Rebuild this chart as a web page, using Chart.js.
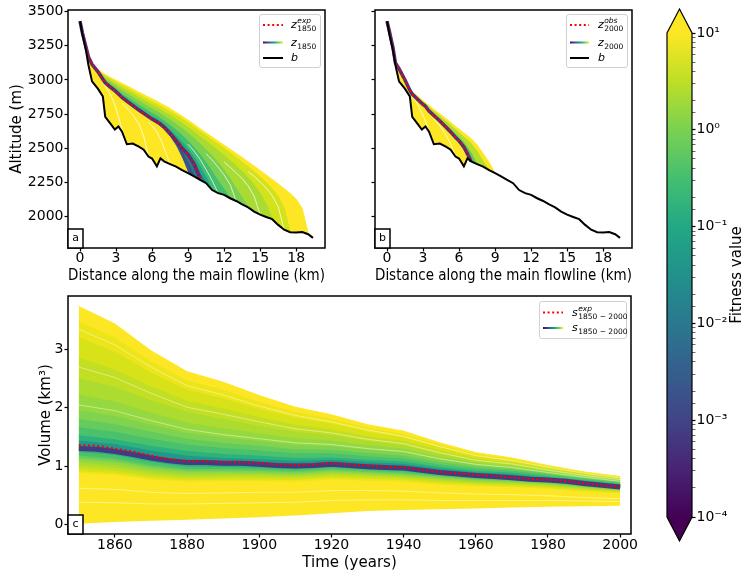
<!DOCTYPE html>
<html>
<head>
<meta charset="utf-8">
<title>Glacier surface and volume ensembles</title>
<script src="https://cdn.jsdelivr.net/npm/chart.js@4.4.1/dist/chart.umd.min.js"></script>
<style>
  html, body { margin: 0; padding: 0; background: #fff; }
  #fig { position: relative; width: 744px; height: 573px; overflow: hidden; }
  #fig canvas { position: absolute; }
</style>
</head>
<body>
<div id="fig">
  <canvas id="panel-a" width="340" height="285" style="left:0;top:0"></canvas>
  <canvas id="panel-b" width="320" height="285" style="left:340px;top:0"></canvas>
  <canvas id="panel-c" width="655" height="288" style="left:0;top:285px"></canvas>
  <canvas id="colorbar" width="89" height="573" style="left:655px;top:0"></canvas>
</div>
<script>
// ---------- data ----------
const distKm = [0, 0.2, 0.5, 0.7, 1.0, 1.5, 1.9, 2.1, 2.5, 2.9, 3.2, 3.5, 3.9, 4.4, 4.9, 5.3, 5.7, 6.0, 6.4, 6.7,
  7.0, 7.5, 8.0, 8.5, 9.0, 9.5, 10.0, 10.5, 11.0, 11.5, 12.0, 12.5, 13.0, 13.5, 14.0, 14.5, 15.0, 15.5, 16.0, 16.5,
  17.0, 17.5, 18.0, 18.5, 19.0, 19.4];
const distTicks = [0, 3, 6, 9, 12, 15, 18];
const altTicks = [2000, 2250, 2500, 2750, 3000, 3250, 3500];

// bedrock b
const bedAlt = [3430, 3335, 3215, 3110, 2990, 2935, 2880, 2730, 2685, 2638, 2660, 2622, 2530, 2535, 2512, 2490, 2440, 2425, 2368, 2427,
  2405, 2385, 2366, 2340, 2318, 2295, 2270, 2245, 2195, 2172, 2160, 2135, 2115, 2090, 2068, 2037, 2015, 1998, 1982, 1940,
  1905, 1887, 1885, 1888, 1872, 1845];

// panel a: expected 1850 surface and a few ensemble members (outer to inner)
const zExp1850 = [3430, 3345, 3240, 3170, 3115, 3060, 3005, 2980, 2950, 2922, 2898, 2872, 2845, 2812, 2780, 2756, 2732, 2714, 2694, 2677,
  2655, 2610, 2557, 2500, 2455, 2385, 2278, null, null, null, null, null, null, null, null, null, null, null, null, null,
  null, null, null, null, null, null];
const z1850Fan1 = [3430, 3345, 3240, 3172, 3125, 3075, 3052, 3040, 3020, 3002, 2988, 2975, 2958, 2935, 2910, 2893, 2875, 2862, 2845, 2830,
  2815, 2792, 2762, 2735, 2706, 2676, 2644, 2613, 2583, 2553, 2523, 2493, 2463, 2433, 2401, 2370, 2338, 2305, 2273, 2240,
  2205, 2170, 2128, 2060, 1878, null];
const z1850Fan2 = [3430, 3345, 3240, 3171, 3120, 3068, 3042, 3030, 3008, 2988, 2972, 2958, 2940, 2915, 2890, 2872, 2853, 2840, 2822, 2807,
  2792, 2768, 2742, 2715, 2685, 2655, 2622, 2592, 2560, 2530, 2498, 2466, 2433, 2400, 2365, 2328, 2290, 2250, 2205, 2150,
  2060, 1887, null, null, null, null];
const z1850Fan3 = [3430, 3345, 3240, 3171, 3118, 3063, 3032, 3018, 2994, 2972, 2955, 2940, 2920, 2895, 2868, 2850, 2830, 2816, 2798, 2782,
  2766, 2740, 2712, 2683, 2652, 2620, 2585, 2552, 2518, 2483, 2448, 2410, 2372, 2330, 2285, 2232, 2170, 2090, 1982, null,
  null, null, null, null, null, null];
const z1850Fan4 = [3430, 3345, 3240, 3171, 3117, 3062, 3022, 3005, 2980, 2956, 2938, 2920, 2900, 2873, 2845, 2825, 2803, 2788, 2770, 2753,
  2735, 2707, 2677, 2645, 2610, 2573, 2533, 2490, 2445, 2395, 2340, 2278, 2208, 2140, 2068, null, null, null, null, null,
  null, null, null, null, null, null];
const z1850Fan5 = [3430, 3345, 3240, 3170, 3116, 3061, 3013, 2992, 2965, 2940, 2918, 2896, 2874, 2845, 2815, 2795, 2772, 2755, 2737, 2720,
  2700, 2668, 2633, 2595, 2552, 2505, 2452, 2395, 2330, 2262, 2200, 2135, null, null, null, null, null, null, null, null,
  null, null, null, null, null, null];
const z1850Fan6 = [3430, 3345, 3240, 3170, 3115, 3060, 3008, 2985, 2956, 2930, 2905, 2880, 2856, 2826, 2795, 2772, 2748, 2731, 2712, 2695,
  2673, 2635, 2592, 2545, 2495, 2435, 2365, 2290, 2195, null, null, null, null, null, null, null, null, null, null, null,
  null, null, null, null, null, null];
const z1850Fan7 = [3430, 3345, 3240, 3170, 3115, 3060, 3006, 2982, 2953, 2926, 2901, 2876, 2850, 2818, 2787, 2763, 2739, 2722, 2702, 2685,
  2663, 2620, 2570, 2515, 2465, 2400, 2318, 2245, null, null, null, null, null, null, null, null, null, null, null, null,
  null, null, null, null, null, null];
const z1850Low1 = [3430, 3345, 3240, 3170, 3113, 3057, 3002, 2976, 2946, 2918, 2893, 2867, 2840, 2807, 2775, 2751, 2727, 2709, 2688, 2670,
  2647, 2598, 2540, 2475, 2395, 2295, null, null, null, null, null, null, null, null, null, null, null, null, null, null,
  null, null, null, null, null, null];
const z1850Low2 = [3430, 3345, 3240, 3170, 3110, 3050, 2995, 2968, 2938, 2910, 2884, 2857, 2830, 2798, 2765, 2742, 2717, 2698, 2677, 2658,
  2633, 2582, 2515, 2425, 2318, null, null, null, null, null, null, null, null, null, null, null, null, null, null, null,
  null, null, null, null, null, null];
// thin gaps between ensemble members (white streaks), each as its own short profile
const gapKm1 = [1.9, 2.1, 2.5, 2.9, 3.2, 3.5, 3.9];
const gapAlt1 = [2990, 2955, 2900, 2820, 2730, 2640, 2530];
const gapKm2 = [3.5, 3.9, 4.4, 4.9, 5.3, 5.7];
const gapAlt2 = [2830, 2795, 2745, 2680, 2590, 2440];
const gapKm3 = [5.7, 6.0, 6.4, 6.7, 7.0, 7.5];
const gapAlt3 = [2690, 2665, 2620, 2570, 2500, 2385];
const gapKm4 = [9.0, 9.5, 10.0, 10.5, 11.0, 11.5];
const gapAlt4 = [2530, 2480, 2420, 2345, 2265, 2172];
const gapKm5 = [10.5, 11.0, 11.5, 12.0, 12.5, 13.0];
const gapAlt5 = [2460, 2415, 2362, 2305, 2235, 2115];
const gapKm6 = [12.0, 12.5, 13.0, 13.5, 14.0, 14.5, 15.0];
const gapAlt6 = [2400, 2362, 2322, 2278, 2225, 2150, 2015];
const gapKm7 = [14.0, 14.5, 15.0, 15.5, 16.0, 16.5, 17.0];
const gapAlt7 = [2330, 2295, 2255, 2210, 2155, 2075, 1905];

// panel b: observed 2000 surface and ensemble members
const zObs2000 = [3430, 3355, 3235, 3125, 3083, 3000, 2925, 2897, 2862, 2828, 2808, 2772, 2740, 2700, 2656, 2620, 2580, 2555, 2510, 2460,
  2405, null, null, null, null, null, null, null, null, null, null, null, null, null, null, null, null, null, null, null,
  null, null, null, null, null, null];
const z2000Fan1 = [3430, 3355, 3235, 3125, 3083, 3002, 2935, 2912, 2885, 2855, 2835, 2812, 2785, 2752, 2718, 2690, 2660, 2640, 2612, 2592,
  2572, 2525, 2462, 2398, 2318, null, null, null, null, null, null, null, null, null, null, null, null, null, null, null,
  null, null, null, null, null, null];
const z2000Fan2 = [3430, 3355, 3235, 3125, 3083, 3001, 2932, 2908, 2878, 2847, 2826, 2800, 2770, 2735, 2698, 2668, 2636, 2614, 2582, 2559,
  2535, 2478, 2405, 2340, null, null, null, null, null, null, null, null, null, null, null, null, null, null, null, null,
  null, null, null, null, null, null];
const z2000Fan3 = [3430, 3355, 3235, 3124, 3083, 3000, 2928, 2902, 2868, 2835, 2815, 2782, 2750, 2712, 2672, 2640, 2604, 2580, 2540, 2505,
  2465, 2385, null, null, null, null, null, null, null, null, null, null, null, null, null, null, null, null, null, null,
  null, null, null, null, null, null];
const z2000Fan4 = [3430, 3355, 3235, 3123, 3083, 3000, 2926, 2899, 2864, 2830, 2810, 2775, 2744, 2705, 2662, 2627, 2588, 2563, 2520, 2478,
  2405, null, null, null, null, null, null, null, null, null, null, null, null, null, null, null, null, null, null, null,
  null, null, null, null, null, null];
const z2000Low = [3430, 3355, 3235, 3122, 3080, 2995, 2918, 2890, 2853, 2818, 2797, 2760, 2727, 2686, 2641, 2604, 2562, 2535, 2480, 2427,
  null, null, null, null, null, null, null, null, null, null, null, null, null, null, null, null, null, null, null, null,
  null, null, null, null, null, null];
const gapKm8 = [2.1, 2.5, 2.9, 3.2, 3.5];
const gapAlt8 = [2880, 2830, 2760, 2700, 2625];
const gapKm9 = [3.9, 4.4, 4.9, 5.3, 5.7];
const gapAlt9 = [2715, 2665, 2600, 2530, 2445];

// panel c: volume 1850-2000
const years5 = [1850, 1855, 1860, 1865, 1870, 1875, 1880, 1885, 1890, 1895, 1900, 1905, 1910, 1915, 1920, 1925,
  1930, 1935, 1940, 1945, 1950, 1955, 1960, 1965, 1970, 1975, 1980, 1985, 1990, 1995, 2000];
const volExp = [1.36, 1.35, 1.30, 1.25, 1.18, 1.12, 1.09, 1.09, 1.07, 1.07, 1.05, 1.03, 1.02, 1.03, 1.05, 1.03,
  1.01, 0.99, 0.98, 0.94, 0.90, 0.875, 0.85, 0.83, 0.81, 0.78, 0.77, 0.745, 0.705, 0.675, 0.645];
const volBest = [1.30, 1.29, 1.25, 1.20, 1.14, 1.09, 1.06, 1.06, 1.05, 1.05, 1.03, 1.01, 1.00, 1.01, 1.03, 1.01,
  0.99, 0.975, 0.965, 0.93, 0.89, 0.865, 0.84, 0.82, 0.80, 0.775, 0.76, 0.74, 0.70, 0.67, 0.64];
const yearsBand = [1850, 1860, 1870, 1880, 1890, 1900, 1910, 1920, 1930, 1940, 1950, 1960, 1970, 1980, 1990, 2000];
// upper edges of the fitness bands, worst (outer) to best (inner)
const volHigh1 = [3.74, 3.44, 2.98, 2.62, 2.44, 2.21, 2.01, 1.88, 1.71, 1.60, 1.40, 1.23, 1.14, 1.01, 0.90, 0.82];
const volHigh2 = [3.47, 3.20, 2.79, 2.46, 2.30, 2.09, 1.92, 1.80, 1.65, 1.54, 1.36, 1.20, 1.11, 0.99, 0.885, 0.805];
const volHigh3 = [3.20, 2.95, 2.60, 2.30, 2.15, 1.97, 1.82, 1.72, 1.58, 1.48, 1.31, 1.16, 1.08, 0.97, 0.87, 0.79];
const volHigh4 = [2.85, 2.65, 2.36, 2.11, 1.98, 1.83, 1.70, 1.62, 1.50, 1.42, 1.26, 1.12, 1.05, 0.945, 0.85, 0.775];
const volHigh5 = [2.50, 2.35, 2.12, 1.92, 1.80, 1.68, 1.58, 1.52, 1.42, 1.35, 1.20, 1.08, 1.02, 0.92, 0.83, 0.76];
const volHigh6 = [2.22, 2.10, 1.91, 1.74, 1.64, 1.55, 1.47, 1.43, 1.35, 1.29, 1.15, 1.05, 0.99, 0.90, 0.815, 0.745];
const volHigh7 = [1.95, 1.85, 1.70, 1.56, 1.48, 1.42, 1.35, 1.33, 1.27, 1.22, 1.10, 1.01, 0.96, 0.88, 0.80, 0.73];
const volHigh8 = [1.80, 1.71, 1.58, 1.46, 1.39, 1.34, 1.28, 1.27, 1.215, 1.17, 1.06, 0.98, 0.935, 0.86, 0.785, 0.715];
const volHigh9 = [1.66, 1.58, 1.46, 1.36, 1.30, 1.26, 1.21, 1.21, 1.16, 1.12, 1.02, 0.95, 0.91, 0.84, 0.77, 0.70];
const volHigh10 = [1.52, 1.45, 1.34, 1.25, 1.20, 1.17, 1.13, 1.14, 1.10, 1.07, 0.98, 0.91, 0.88, 0.81, 0.75, 0.68];
const volHigh11 = [1.43, 1.37, 1.26, 1.17, 1.13, 1.11, 1.08, 1.10, 1.06, 1.03, 0.95, 0.885, 0.85, 0.79, 0.73, 0.665];
// matching lower edges
const volLow1 = [0.01, 0.04, 0.06, 0.08, 0.10, 0.12, 0.15, 0.19, 0.23, 0.245, 0.26, 0.27, 0.29, 0.30, 0.31, 0.32];
const volLow2 = [0.88, 0.85, 0.77, 0.73, 0.74, 0.74, 0.73, 0.77, 0.75, 0.73, 0.68, 0.655, 0.635, 0.605, 0.56, 0.535];
const volLow3 = [0.91, 0.88, 0.80, 0.76, 0.77, 0.77, 0.76, 0.80, 0.78, 0.76, 0.71, 0.68, 0.66, 0.63, 0.58, 0.55];
const volLow4 = [0.96, 0.925, 0.84, 0.795, 0.805, 0.805, 0.79, 0.83, 0.81, 0.785, 0.735, 0.70, 0.68, 0.65, 0.597, 0.562];
const volLow5 = [1.01, 0.97, 0.88, 0.83, 0.84, 0.84, 0.82, 0.86, 0.84, 0.81, 0.76, 0.72, 0.70, 0.67, 0.615, 0.575];
const volLow6 = [1.06, 1.015, 0.92, 0.865, 0.87, 0.865, 0.845, 0.885, 0.86, 0.83, 0.78, 0.74, 0.715, 0.685, 0.627, 0.585];
const volLow7 = [1.11, 1.06, 0.96, 0.90, 0.90, 0.89, 0.87, 0.91, 0.88, 0.85, 0.80, 0.76, 0.73, 0.70, 0.64, 0.595];
const volLow8 = [1.145, 1.095, 0.99, 0.925, 0.925, 0.915, 0.893, 0.93, 0.90, 0.87, 0.815, 0.772, 0.742, 0.71, 0.65, 0.602];
const volLow9 = [1.18, 1.13, 1.02, 0.95, 0.95, 0.94, 0.915, 0.95, 0.92, 0.89, 0.83, 0.785, 0.755, 0.72, 0.66, 0.61];
const volLow10 = [1.24, 1.19, 1.07, 0.99, 0.985, 0.97, 0.945, 0.98, 0.945, 0.915, 0.85, 0.805, 0.77, 0.735, 0.675, 0.62];
const volLow11 = [1.29, 1.23, 1.11, 1.03, 1.01, 0.995, 0.97, 1.005, 0.965, 0.935, 0.87, 0.82, 0.785, 0.75, 0.69, 0.63];
// faint gaps between single volume runs
const volGap1 = [3.35, 3.08, 2.70, 2.38, 2.22, 2.03, 1.87, 1.76, 1.62, 1.51, 1.335, 1.18, 1.095, 0.98, 0.878, 0.798];
const volGap2 = [2.70, 2.52, 2.25, 2.01, 1.89, 1.76, 1.64, 1.57, 1.46, 1.385, 1.23, 1.10, 1.035, 0.932, 0.84, 0.768];
const volGap3 = [2.05, 1.95, 1.78, 1.63, 1.54, 1.47, 1.40, 1.37, 1.30, 1.25, 1.125, 1.03, 0.975, 0.89, 0.81, 0.738];
const volGap4 = [0.62, 0.60, 0.55, 0.53, 0.54, 0.55, 0.55, 0.58, 0.58, 0.57, 0.54, 0.52, 0.51, 0.49, 0.46, 0.44];
const volGap5 = [0.38, 0.37, 0.35, 0.35, 0.36, 0.37, 0.38, 0.41, 0.42, 0.42, 0.41, 0.41, 0.41, 0.41, 0.40, 0.39];
const yearTicks = [1860, 1880, 1900, 1920, 1940, 1960, 1980, 2000];
const volTicks = [0, 1, 2, 3];

// colour bar
const fitnessRange = [1e-4, 10];
const fitnessTicks = [1e-4, 1e-3, 1e-2, 1e-1, 1, 10];
const fitnessLabels = ['10\u207B\u2074', '10\u207B\u00B3', '10\u207B\u00B2', '10\u207B\u00B9', '10\u2070', '10\u00B9'];

// ---------- styling ----------
Chart.defaults.font.family = "'DejaVu Sans', sans-serif";
Chart.defaults.color = '#000';

const VIRIDIS = ['#440154', '#482475', '#414487', '#355f8d', '#2a788e', '#21918c',
  '#22a884', '#44bf70', '#7ad151', '#bddf26', '#fde725'];
const RED_DOTS = [2, 2.6];

const pts = (xs, ys) => xs.map((x, i) => ({ x, y: ys[i] })).filter(p => p.y !== null);

function band(xs, ys, color, order, target) {
  return {
    data: pts(xs, ys), borderColor: color, backgroundColor: color, borderWidth: 1,
    fill: target === undefined ? false : { target }, order
  };
}

function streak(xs, ys, alpha) {
  return { data: pts(xs, ys), borderColor: `rgba(255,255,255,${alpha || 0.9})`, borderWidth: 0.8, fill: false, order: 2.5 };
}

function axis(o) {
  return {
    type: 'linear', min: o.min, max: o.max, position: o.position,
    afterBuildTicks: s => { s.ticks = o.ticks.map(v => ({ value: v })); },
    afterFit: s => { if (o.width) s.width = o.width; if (o.height) s.height = o.height; },
    ticks: {
      font: { size: 14, lineHeight: 1 }, padding: o.pad, autoSkip: false, maxRotation: 0,
      callback: o.noLabels ? () => '' : v => String(v)
    },
    grid: { drawOnChartArea: false, tickLength: 3.5, tickColor: '#000', tickWidth: 1.2 },
    border: { display: false },
    title: o.title ? { display: true, text: o.title, font: { size: 15 }, padding: o.titlePad } : { display: false }
  };
}

const framePlugin = {
  id: 'frame',
  afterDraw(chart) {
    const { ctx, chartArea: a } = chart;
    ctx.save();
    ctx.strokeStyle = '#000';
    ctx.lineWidth = 1.5;
    ctx.strokeRect(a.left, a.top, a.right - a.left, a.bottom - a.top);
    ctx.restore();
  }
};

function panelTag(letter) {
  return {
    id: 'tag-' + letter,
    afterDraw(chart) {
      const { ctx, chartArea: a } = chart;
      ctx.save();
      ctx.fillStyle = '#fff';
      ctx.fillRect(a.left, a.bottom - 19, 15, 19);
      ctx.strokeStyle = '#000';
      ctx.lineWidth = 1.5;
      ctx.strokeRect(a.left, a.bottom - 19, 15, 19);
      ctx.fillStyle = '#000';
      ctx.font = "11px 'DejaVu Sans'";
      ctx.textAlign = 'center';
      ctx.textBaseline = 'middle';
      ctx.fillText(letter, a.left + 7.5, a.bottom - 9.5);
      ctx.restore();
    }
  };
}

// base letter in italics with optional superscript / subscript, like mathtext
function mathLabel(ctx, x, y, base, sup, sub) {
  ctx.textBaseline = 'alphabetic';
  ctx.textAlign = 'left';
  ctx.font = "italic 11px 'DejaVu Sans'";
  ctx.fillText(base, x, y);
  const w = ctx.measureText(base).width + 0.5;
  if (sup) {
    ctx.font = "italic 7.5px 'DejaVu Sans'";
    ctx.fillText(sup, x + w, y - 5);
  }
  if (sub) {
    ctx.font = "7.5px 'DejaVu Sans'";
    ctx.fillText(sub, x + w, y + 3);
  }
}

function mathLegend(id, box, lineX, textX, rows) {
  return {
    id,
    afterDraw(chart) {
      const ctx = chart.ctx;
      ctx.save();
      ctx.fillStyle = 'rgba(255,255,255,0.85)';
      ctx.strokeStyle = '#d0d0d0';
      ctx.lineWidth = 1;
      ctx.beginPath();
      ctx.roundRect(box[0] + 0.5, box[1] + 0.5, box[2], box[3], 2.5);
      ctx.fill();
      ctx.stroke();
      rows.forEach(r => {
        ctx.save();
        ctx.lineWidth = 2;
        if (r.kind === 'dots') {
          ctx.strokeStyle = '#ff0000';
          ctx.setLineDash(RED_DOTS);
        } else if (r.kind === 'grad') {
          const g = ctx.createLinearGradient(lineX[0], 0, lineX[1], 0);
          VIRIDIS.forEach((c, i) => g.addColorStop(i / (VIRIDIS.length - 1), c));
          ctx.strokeStyle = g;
        } else {
          ctx.strokeStyle = '#000';
        }
        ctx.beginPath();
        ctx.moveTo(lineX[0], r.y);
        ctx.lineTo(lineX[1], r.y);
        ctx.stroke();
        ctx.restore();
        ctx.fillStyle = '#000';
        mathLabel(ctx, textX, r.y + 3, r.base, r.sup, r.sub);
      });
      ctx.restore();
    }
  };
}

const baseOptions = {
  responsive: false, animation: false, events: [],
  elements: { point: { radius: 0 }, line: { tension: 0 } },
  plugins: { legend: { display: false }, tooltip: { enabled: false } }
};

// ---------- panel a ----------
new Chart(document.getElementById('panel-a'), {
  type: 'line',
  data: {
    datasets: [
      { data: pts(distKm, bedAlt), borderColor: '#000', borderWidth: 2, fill: false, order: 0 },
      { data: pts(distKm, zExp1850), borderColor: '#ff0000', borderWidth: 2, borderDash: RED_DOTS, fill: false, order: 1 },
      { data: pts(distKm, zExp1850), borderColor: '#46337e', borderWidth: 3.5, fill: false, order: 2 },
      streak(gapKm1, gapAlt1), streak(gapKm2, gapAlt2), streak(gapKm3, gapAlt3),
      streak(gapKm4, gapAlt4), streak(gapKm5, gapAlt5), streak(gapKm6, gapAlt6), streak(gapKm7, gapAlt7),
      band(distKm, z1850Low2, VIRIDIS[10], 3, 0),
      band(distKm, z1850Low1, '#3b528b', 4, 0),
      band(distKm, z1850Fan7, '#2a788e', 5, 0),
      band(distKm, z1850Fan6, '#22a884', 6, 0),
      band(distKm, z1850Fan5, '#44bf70', 7, 0),
      band(distKm, z1850Fan4, '#7ad151', 8, 0),
      band(distKm, z1850Fan3, '#a8db34', 9, 0),
      band(distKm, z1850Fan2, '#d2e21b', 10, 0),
      band(distKm, z1850Fan1, VIRIDIS[10], 11, 0)
    ]
  },
  options: {
    ...baseOptions,
    layout: { padding: { left: 0, right: 15, top: 10, bottom: 0 } },
    scales: {
      x: axis({ min: -1, max: 20.4, ticks: distTicks, height: 37, pad: 0,
        title: 'Distance along the main flowline (km)', titlePad: { top: 0, bottom: 0 } }),
      y: axis({ min: 1771, max: 3512, ticks: altTicks, width: 68, pad: 1, position: 'left',
        title: 'Altitude (m)', titlePad: { top: 8, bottom: 0 } })
    }
  },
  plugins: [framePlugin, panelTag('a'), mathLegend('legend-a', [259, 14, 61, 53], [263, 283], 291, [
    { kind: 'dots', y: 25, base: 'z', sup: 'exp', sub: '1850' },
    { kind: 'grad', y: 42.5, base: 'z', sub: '1850' },
    { kind: 'solid', y: 58, base: 'b' }
  ])]
});

// ---------- panel b ----------
new Chart(document.getElementById('panel-b'), {
  type: 'line',
  data: {
    datasets: [
      { data: pts(distKm, bedAlt), borderColor: '#000', borderWidth: 2, fill: false, order: 0 },
      { data: pts(distKm, zObs2000), borderColor: '#ff0000', borderWidth: 2, borderDash: RED_DOTS, fill: false, order: 1 },
      { data: pts(distKm, zObs2000), borderColor: '#46337e', borderWidth: 3.5, fill: false, order: 2 },
      streak(gapKm8, gapAlt8), streak(gapKm9, gapAlt9),
      band(distKm, z2000Low, VIRIDIS[10], 3, 0),
      band(distKm, z2000Fan4, '#21918c', 4, 0),
      band(distKm, z2000Fan3, '#5ec962', 5, 0),
      band(distKm, z2000Fan2, '#b5de2b', 6, 0),
      band(distKm, z2000Fan1, VIRIDIS[10], 7, 0)
    ]
  },
  options: {
    ...baseOptions,
    layout: { padding: { left: 0, right: 28, top: 10, bottom: 0 } },
    scales: {
      x: axis({ min: -1, max: 20.4, ticks: distTicks, height: 37, pad: 0,
        title: 'Distance along the main flowline (km)', titlePad: { top: 0, bottom: 0 } }),
      y: axis({ min: 1771, max: 3512, ticks: altTicks, width: 35, pad: 1, position: 'left', noLabels: true })
    }
  },
  plugins: [framePlugin, panelTag('b'), mathLegend('legend-b', [226, 14, 61, 53], [230, 249], 258, [
    { kind: 'dots', y: 25, base: 'z', sup: 'obs', sub: '2000' },
    { kind: 'grad', y: 42.5, base: 'z', sub: '2000' },
    { kind: 'solid', y: 58, base: 'b' }
  ])]
});

// ---------- panel c ----------
const volHighs = [volHigh1, volHigh2, volHigh3, volHigh4, volHigh5, volHigh6, volHigh7, volHigh8, volHigh9, volHigh10, volHigh11];
const volLows = [volLow1, volLow2, volLow3, volLow4, volLow5, volLow6, volLow7, volLow8, volLow9, volLow10, volLow11];
const volGaps = [volGap1, volGap2, volGap3, volGap4, volGap5];
const bandColors = ['#fde725', '#ebe51a', '#d8e219', '#c2df23', '#addc30', '#95d840', '#7fd34e',
  '#66cb5d', '#4ac16d', '#2db27d', '#1f9a8a'];

new Chart(document.getElementById('panel-c'), {
  type: 'line',
  data: {
    datasets: [
      { data: pts(years5, volExp), borderColor: '#ff0000', borderWidth: 2, borderDash: RED_DOTS, fill: false, order: 0 },
      { data: pts(years5, volBest), borderColor: '#443983', borderWidth: 5, fill: false, order: 1 },
      ...volLows.map(v => ({ data: pts(yearsBand, v), borderWidth: 0, borderColor: 'transparent', fill: false, order: 80 })),
      ...volHighs.map((v, k) => band(yearsBand, v, bandColors[k], 60 - k, 2 + k)),
      ...volGaps.map(v => streak(yearsBand, v, 0.55))
    ]
  },
  options: {
    ...baseOptions,
    layout: { padding: { left: 0, right: 24, top: 11, bottom: 0 } },
    scales: {
      x: axis({ min: 1847, max: 2003, ticks: yearTicks, height: 39, pad: 0.5,
        title: 'Time (years)', titlePad: { top: 0, bottom: 1 } }),
      y: axis({ min: -0.166, max: 3.92, ticks: volTicks, width: 68, pad: 1, position: 'left',
        title: 'Volume (km\u00B3)', titlePad: { top: 37, bottom: 0 } })
    }
  },
  plugins: [framePlugin, panelTag('c'), mathLegend('legend-c', [539, 16, 87, 37], [543, 563], 572, [
    { kind: 'dots', y: 27.5, base: 's', sup: 'exp', sub: '1850 \u2212 2000' },
    { kind: 'grad', y: 43, base: 's', sub: '1850 \u2212 2000' }
  ])]
});

// ---------- colour bar ----------
const colorbarPlugin = {
  id: 'colorbarExtras',
  afterDatasetsDraw(chart) {
    const { ctx, chartArea: a } = chart;
    const mid = (a.left + a.right) / 2;
    const ext = 24;
    ctx.save();
    ctx.fillStyle = VIRIDIS[10];
    ctx.beginPath();
    ctx.moveTo(a.left, a.top); ctx.lineTo(mid, a.top - ext); ctx.lineTo(a.right, a.top);
    ctx.closePath(); ctx.fill();
    ctx.fillStyle = VIRIDIS[0];
    ctx.beginPath();
    ctx.moveTo(a.left, a.bottom); ctx.lineTo(mid, a.bottom + ext); ctx.lineTo(a.right, a.bottom);
    ctx.closePath(); ctx.fill();
    ctx.strokeStyle = '#000';
    ctx.lineWidth = 1.2;
    ctx.beginPath();
    ctx.moveTo(a.left, a.top); ctx.lineTo(mid, a.top - ext); ctx.lineTo(a.right, a.top);
    ctx.lineTo(a.right, a.bottom); ctx.lineTo(mid, a.bottom + ext); ctx.lineTo(a.left, a.bottom);
    ctx.closePath(); ctx.stroke();
    ctx.translate(82, (a.top + a.bottom) / 2);
    ctx.rotate(-Math.PI / 2);
    ctx.fillStyle = '#000';
    ctx.font = "15px 'DejaVu Sans'";
    ctx.textAlign = 'center';
    ctx.textBaseline = 'middle';
    ctx.fillText('Fitness value', 0, 0);
    ctx.restore();
  }
};

const isDecade = v => fitnessTicks.findIndex(t => Math.abs(v - t) / t < 1e-6);

new Chart(document.getElementById('colorbar'), {
  type: 'bar',
  data: {
    labels: ['fitness'],
    datasets: [{
      data: [fitnessRange], borderWidth: 0, barPercentage: 1, categoryPercentage: 1,
      backgroundColor: ctx => {
        const a = ctx.chart.chartArea;
        if (!a) return VIRIDIS[5];
        const g = ctx.chart.ctx.createLinearGradient(0, a.bottom, 0, a.top);
        VIRIDIS.forEach((c, i) => g.addColorStop(i / (VIRIDIS.length - 1), c));
        return g;
      }
    }]
  },
  options: {
    ...baseOptions,
    layout: { padding: { left: 12, right: 0, top: 33, bottom: 56 } },
    scales: {
      x: { display: false },
      y: {
        type: 'logarithmic', position: 'right', min: fitnessRange[0], max: fitnessRange[1],
        afterFit: s => { s.width = 52; },
        ticks: {
          autoSkip: false, font: { size: 14, lineHeight: 1 }, padding: 1,
          callback: v => { const i = isDecade(v); return i >= 0 ? fitnessLabels[i] : ''; }
        },
        grid: {
          drawOnChartArea: false, tickLength: 3.5, tickColor: '#000',
          tickWidth: c => (c.tick && isDecade(c.tick.value) >= 0 ? 1.2 : 0.6)
        },
        border: { display: false }
      }
    }
  },
  plugins: [colorbarPlugin]
});
</script>
</body>
</html>
